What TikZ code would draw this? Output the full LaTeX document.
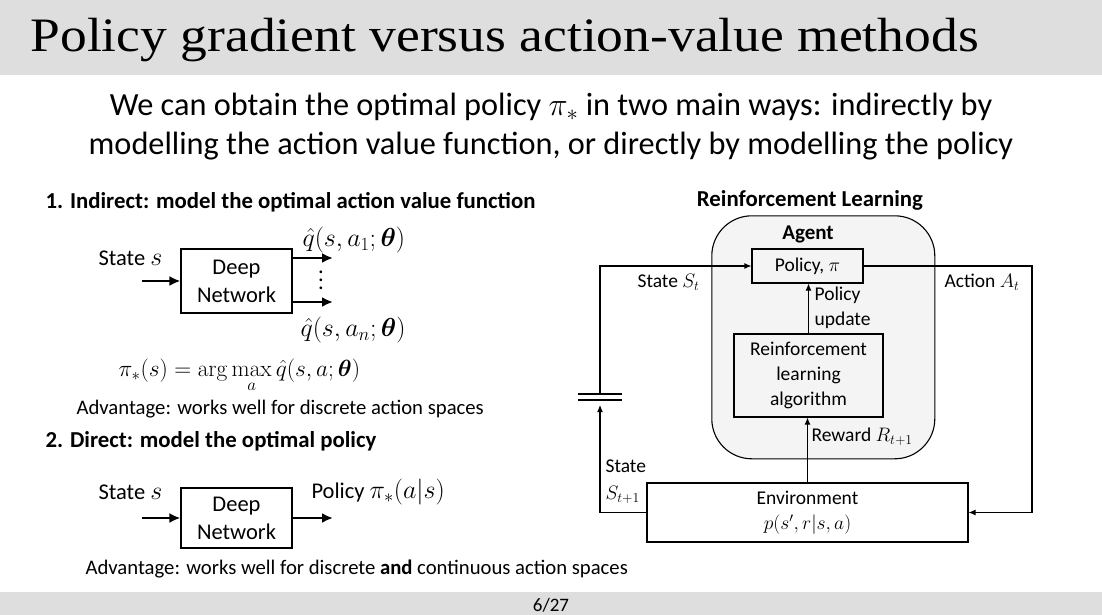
\RequirePackage{fix-cm}
\documentclass[tikz,border=0pt]{standalone}
\usepackage{amsmath,amssymb}
\usepackage[no-math]{fontspec}
\setmainfont{Carlito}
\newfontfamily\titlefont{Liberation Serif}
\usepackage{tikz}
\usetikzlibrary{arrows.meta,positioning,calc}
\usepackage{xcolor}
\definecolor{hdrgray}{HTML}{DEDEDE}
\definecolor{agentfill}{HTML}{F4F4F4}
% larger maths next to the diagram text on the left
\DeclareMathSizes{22.5}{26}{18.5}{14}
\DeclareMathSizes{21}{23.4}{17}{13}
\newcommand{\tallvdots}{\vbox{\baselineskip=8pt \lineskiplimit=0pt \hbox{.}\hbox{.}\hbox{.}}}

\begin{document}
\begin{tikzpicture}[x=1pt, y=-1pt, line width=1.1pt,
  txt/.style={font=\fontsize{22.5}{27}\selectfont, inner sep=0pt},
  small/.style={font=\fontsize{20.7}{24}\selectfont, inner sep=0pt},
  head/.style={font=\fontsize{22.8}{26}\selectfont\bfseries, inner sep=0pt},
  netbox/.style={draw, line width=1.1pt, align=center, inner sep=0pt,
    minimum width=111pt, font=\fontsize{22.5}{28}\selectfont},
  rlbox/.style={draw, line width=1.1pt, align=center, inner sep=0pt,
    font=\fontsize{19.5}{25}\selectfont},
  fatarrow/.style={line width=2.8pt, -{Latex[length=11pt,width=10pt]}},
  thinarrow/.style={line width=1.1pt, -{Latex[length=7pt,width=6pt]}}]
\useasboundingbox (0,0) rectangle (1102,615);
% ================= header / footer =================
\fill[hdrgray] (0,0) rectangle (1102,75);
\fill[hdrgray] (0,592) rectangle (1102,615);
\node[anchor=base west, inner sep=0pt, font=\titlefont\fontsize{48}{52}\selectfont]
  (title) at (30,52) {\scalebox{1.115}[1]{Policy gradient versus action-value methods}};
\node[font=\fontsize{19}{22}\selectfont, inner sep=0pt] (pageno) at (551,605) {6/27};
\node[align=center, inner sep=0pt, font=\fontsize{32.3}{39}\selectfont] (intro) at (551,127)
  {We can obtain the optimal policy $\pi_*$ in two main ways: indirectly by\\
   modelling the action value function, or directly by modelling the policy};
% ================= 1. indirect =================
\node[head, anchor=west] (h1) at (45,202) {1. Indirect: model the optimal action value function};
\node[netbox, minimum height=64pt] (dn1) at (236.5,281) {Deep\\Network};
\node[txt, anchor=west] (st1) at (98,258) {State $s$};
\coordinate (in1) at (142,281);
\draw[fatarrow] (in1) -- (dn1.west);
\coordinate (qa) at (333,258);
\coordinate (qb) at (333,302);
\draw[fatarrow] (dn1.east |- qa) -- (qa);
\draw[fatarrow] (dn1.east |- qb) -- (qb);
\node[txt] (dots) at (321,280) {\tallvdots};
\node[txt, anchor=west] (q1) at (302,240) {$\hat{q}(s,a_1;\boldsymbol{\theta})$};
\node[txt, anchor=west] (qn) at (300,330) {$\hat{q}(s,a_n;\boldsymbol{\theta})$};
\node[font=\fontsize{21}{24}\selectfont, inner sep=0pt, anchor=west] (argmax) at (118,376)
  {$\pi_*(s)=\arg\max\limits_{a}\hat{q}(s,a;\boldsymbol{\theta})$};
\node[small, anchor=west] (adv1) at (76,409) {Advantage: works well for discrete action spaces};
% ================= 2. direct =================
\node[head, anchor=west] (h2) at (45,441) {2. Direct: model the optimal policy};
\node[netbox, minimum height=60pt] (dn2) at (236.5,518) {Deep\\Network};
\node[txt, anchor=west] (st2) at (98,492) {State $s$};
\coordinate (in2) at (142,518);
\coordinate (pol2) at (333,518);
\draw[fatarrow] (in2) -- (dn2.west);
\draw[fatarrow] (dn2.east |- pol2) -- (pol2);
\node[txt, anchor=west] (pi2) at (311,492) {Policy $\pi_*(a|s)$};
\node[small, anchor=west] (adv2) at (85,569)
  {Advantage: works well for discrete \textbf{and} continuous action spaces};
% ================= reinforcement learning loop =================
\node[head] (rltitle) at (810,200) {Reinforcement Learning};
\node[draw, fill=agentfill, rounded corners=40pt, line width=1.1pt,
  minimum width=223pt, minimum height=243pt] (agent) at (823.3,337.3) {};
\node[head, font=\fontsize{21}{24}\selectfont\bfseries] (agentlbl) at (808,234) {Agent};
\node[rlbox, minimum width=111pt, minimum height=34pt] (policy) at (807.5,266) {Policy, $\pi$};
\node[rlbox, minimum width=149pt, minimum height=83pt] (rlalg) at (808.5,375.5)
  {Reinforcement\\learning\\algorithm};
\node[rlbox, minimum width=321pt, minimum height=59pt] (env) at (807.5,512.5)
  {Environment\\$p(s',r|s,a)$};
\draw[thinarrow] (rlalg.north) -- (rlalg.north |- policy.south);
\draw[thinarrow] (env.north) -- (env.north |- rlalg.south);
\node[rlbox, draw=none, align=left, anchor=north west] (upd) at (814,286) {Policy\\update};
\node[rlbox, draw=none, anchor=west] (rew) at (811,437) {Reward $R_{t+1}$};
% action path
\coordinate (acorner) at (1032,266);
\draw[thinarrow] (policy.east) -- (acorner) |- (env.east);
\node[rlbox, draw=none, anchor=west] (act) at (944,282) {Action $A_t$};
% state path with delay
\coordinate (dly) at (600,394);
\coordinate (dlyb) at (600,400);
\draw (dly) ++(-22,0) -- ++(44,0);
\draw (dlyb) ++(-22,0) -- ++(44,0);
\draw[thinarrow] (env.west) -| ($(dlyb)+(0,5)$);
\draw[thinarrow] (dly) |- (policy.west);
\node[rlbox, draw=none, anchor=west] (st) at (637,282) {State $S_t$};
\node[rlbox, draw=none, align=left, anchor=north west, font=\fontsize{19.5}{27}\selectfont]
  (stn) at (605,459) {State\\$S_{t+1}$};
\end{tikzpicture}
\end{document}
